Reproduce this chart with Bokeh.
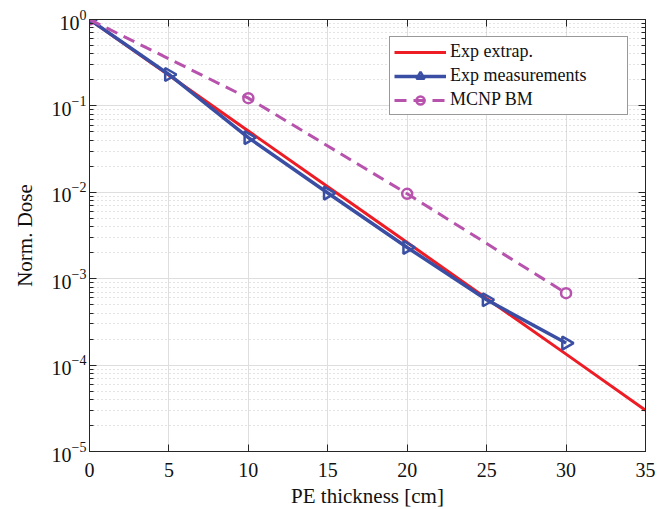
import numpy as np
from bokeh.plotting import figure
from bokeh.models import (LogAxis, LinearAxis, LogTicker, FixedTicker, Legend, LegendItem,
                          LogTickFormatter, Range1d, CustomJSTickFormatter)
from bokeh.embed import file_html
from bokeh.resources import INLINE

# PE thickness [cm] and normalized dose values
extrap_x = [0, 5, 10, 15, 20, 25, 30, 35]
extrap_y = [1.0, 0.226, 0.0512, 0.0116, 0.00262, 5.9e-4, 1.34e-4, 3.0e-5]

meas_x = [0, 5, 10, 15, 20, 25, 30]
meas_y = [1.0, 0.231, 0.043, 0.0098, 0.0023, 5.7e-4, 1.8e-4]

mcnp_x = [0, 10, 20, 30]
mcnp_y = [1.0, 0.123, 0.0096, 6.8e-4]

x_ticks = [0, 5, 10, 15, 20, 25, 30, 35]

FONT = "Liberation Serif"
RED = "#ee1c25"
BLUE = "#3a4fa3"
MAGENTA = "#b853ad"
AXIS = "#262626"

p = figure(frame_width=556, frame_height=432, y_axis_type="log",
           x_range=Range1d(0, 35), y_range=Range1d(1e-5, 1),
           output_backend="svg", toolbar_location=None,
           min_border_left=89, min_border_right=12, min_border_top=19, min_border_bottom=58,
           background_fill_color="white", border_fill_color="white")
p.outline_line_color = AXIS
p.outline_line_width = 1

# grid
p.xgrid.ticker = FixedTicker(ticks=x_ticks)
p.xgrid.grid_line_color = "#dedede"
p.ygrid.grid_line_color = "#dedede"
p.ygrid.minor_grid_line_color = "#c8c8c8"
p.ygrid.minor_grid_line_dash = "1 3"

blank = CustomJSTickFormatter(code="return ''")

# axes
def style_axis(ax):
    ax.axis_line_color = AXIS
    ax.major_tick_line_color = AXIS
    ax.minor_tick_line_color = AXIS
    ax.major_tick_in = 7
    ax.major_tick_out = 0
    ax.minor_tick_in = 4
    ax.minor_tick_out = 0
    ax.major_label_text_font = FONT
    ax.major_label_text_font_size = "20px"
    ax.major_label_text_color = "#111111"
    ax.axis_label_text_font = FONT
    ax.axis_label_text_font_size = "21px"
    ax.axis_label_text_font_style = "normal"
    ax.axis_label_text_color = "#111111"

xax = p.xaxis[0]
xax.ticker = FixedTicker(ticks=x_ticks)
xax.axis_label = "PE thickness [cm]"
style_axis(xax)
xax.major_label_standoff = 11
xax.axis_label_standoff = 4

yax = p.yaxis[0]
yax.ticker = LogTicker(mantissas=[1], num_minor_ticks=10)
yax.formatter = LogTickFormatter()
yax.axis_label = "Norm. Dose"
style_axis(yax)
yax.major_label_standoff = 3
yax.axis_label_standoff = 12
p.ygrid.ticker = yax.ticker

top = LinearAxis(ticker=FixedTicker(ticks=x_ticks), formatter=blank)
style_axis(top)
top.minor_tick_in = 0
top.major_label_standoff = 0
p.add_layout(top, "above")

right = LogAxis(ticker=LogTicker(mantissas=[1], num_minor_ticks=10), formatter=blank)
style_axis(right)
right.major_label_standoff = 0
p.add_layout(right, "right")

# series
r_ext = p.line(extrap_x, extrap_y, line_color=RED, line_width=3)

r_meas = p.line(meas_x, meas_y, line_color=BLUE, line_width=3.5)
r_meas_m = p.scatter(meas_x, meas_y, marker="triangle", angle=-np.pi / 2, size=13,
                     line_color=BLUE, line_width=2.5, fill_color="white", fill_alpha=0.0)

r_mcnp = p.line(mcnp_x, mcnp_y, line_color=MAGENTA, line_width=3, line_dash="12 7")
r_mcnp_m = p.scatter(mcnp_x, mcnp_y, marker="circle", size=10,
                     line_color=MAGENTA, line_width=2.5, fill_color="white", fill_alpha=0.0)

legend = Legend(items=[
    LegendItem(label="Exp extrap.", renderers=[r_ext]),
    LegendItem(label="Exp measurements", renderers=[r_meas, r_meas_m]),
    LegendItem(label="MCNP BM", renderers=[r_mcnp, r_mcnp_m]),
], location="top_right")
legend.label_text_font = FONT
legend.label_text_font_size = "18px"
legend.label_text_color = "#111111"
legend.border_line_color = "#333333"
legend.border_line_width = 1
legend.background_fill_color = "white"
legend.background_fill_alpha = 1.0
legend.glyph_width = 52
legend.glyph_height = 20
legend.label_height = 20
legend.label_width = 173
legend.label_standoff = 4
legend.spacing = 3
legend.padding = 4
legend.margin = 17
p.add_layout(legend)

open("out.html", "w").write(file_html(p, INLINE))
